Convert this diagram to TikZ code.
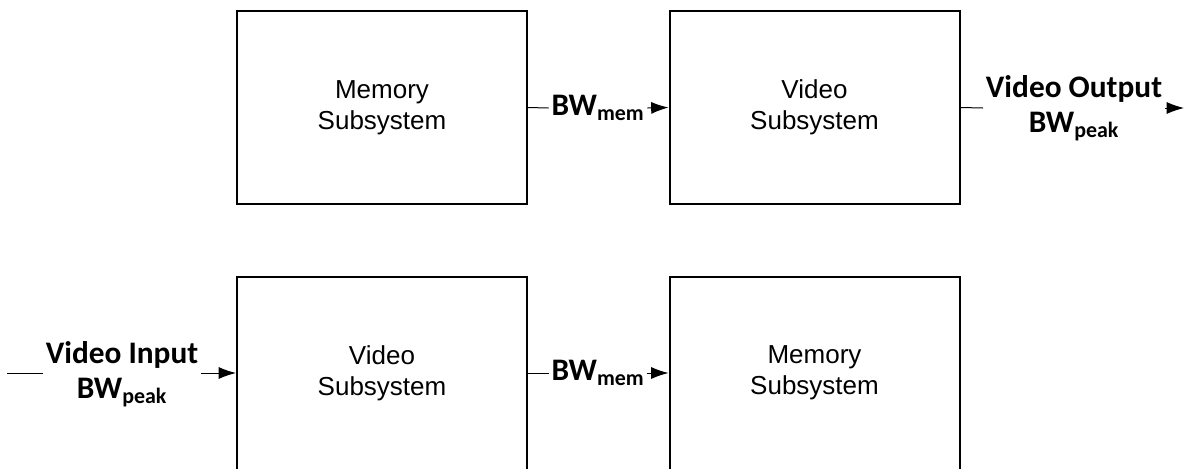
\documentclass[tikz,border=0pt]{standalone}
\usepackage{fontspec}
\setmainfont{Liberation Sans}
\newfontfamily\calibri{Carlito}
\usepackage{tikz}
\usetikzlibrary{arrows.meta}

\begin{document}
\begin{tikzpicture}[x=0.75pt,y=-0.75pt]

\tikzset{block/.style = {shape=rectangle,draw,line width=1.5pt,minimum width=217.5pt,minimum height=144.75pt,align=center,font=\fontsize{19.5}{23.5}\selectfont}}
\tikzset{bw/.style = {inner sep=2pt,align=center,font=\calibri\bfseries\fontsize{23.5}{26}\selectfont}}
\tikzset{edge/.style = {-{Latex[length=13pt,width=9pt]},line width=0.75pt}}
\tikzset{wire/.style = {line width=0.75pt}}

\clip (0,0) rectangle (1184,468);

% blocks
\node[block] (mem1) at (382,107.5) {Memory\\Subsystem};
\node[block] (vid1) at (814.5,107.5) {Video\\Subsystem};
\node[block] (vid2) at (382,373) {Video\\Subsystem};
\node[block] (mem2) at (814.5,373) {Memory\\Subsystem};

% labels
\node[bw] (bwmem1) at (598,108) {BW\textsubscript{mem}};
\node[bw] (vout) at (1074,108) {Video Output\\BW\textsubscript{peak}};
\node[bw] (vin) at (122,374) {Video Input\\BW\textsubscript{peak}};
\node[bw] (bwmem2) at (598,373) {BW\textsubscript{mem}};
\coordinate (outend) at (1184,108);
\coordinate (instart) at (7,373);

%edges
\draw[wire] (mem1.east) -- (bwmem1.west);
\draw[edge] (bwmem1.east) -- (vid1.west);
\draw[wire] (vid1.east) -- (vout.west);
\draw[edge] (vout.east) -- (outend);

\draw[wire] (instart) -- (vin.west |- instart);
\draw[edge] (vin.east |- instart) -- (vid2.west);
\draw[wire] (vid2.east) -- (bwmem2.west);
\draw[edge] (bwmem2.east) -- (mem2.west);
\end{tikzpicture}
\end{document}
